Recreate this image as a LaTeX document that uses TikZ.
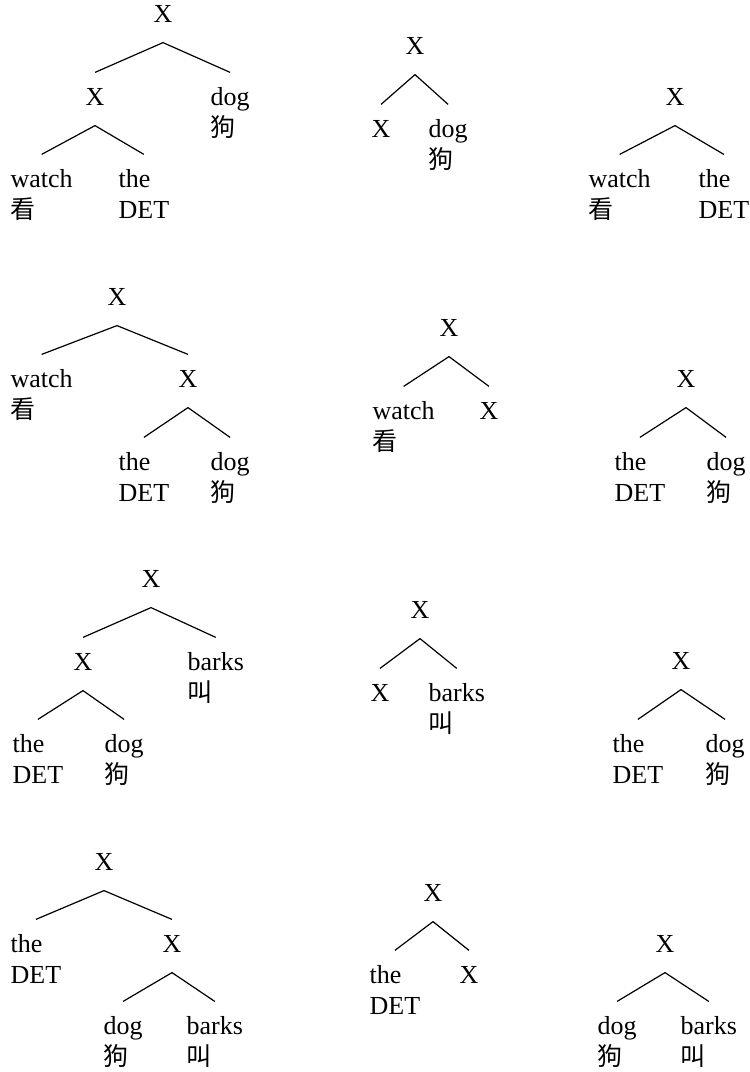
\documentclass[tikz,border=0pt]{standalone}
\usepackage{fontspec}
\setmainfont{Liberation Serif}
\newfontfamily\cjk{Noto Sans CJK SC}
\newcommand{\wordgloss}[2]{\begin{tabular}[t]{@{}l@{}}#1\\#2\end{tabular}}
\newcommand{\zh}[1]{{\cjk\fontsize{12.5}{15.5}\selectfont #1}}
\begin{document}
\begin{tikzpicture}[x=0.5pt,y=-0.5pt,line width=0.6pt,
  cat/.style={inner xsep=0pt,inner ysep=7pt,text height=9pt,text depth=3pt,anchor=base,font=\fontsize{13}{15.5}\selectfont},
  word/.style={cat,anchor=base west}]
\useasboundingbox (0,0) rectangle (750,1072);
% row 1
\node[cat] (ar) at (163,22) {X};
\node[cat] (ax) at (95,105) {X};
\node[word] (adog) at (210,105) {\wordgloss{dog}{\zh{狗}}};
\node[word] (awatch) at (10,187) {\wordgloss{watch}{\zh{看}}};
\node[word] (athe) at (118,187) {\wordgloss{the}{DET}};
\draw (ar.south) -- (ax.north);
\draw (ar.south) -- (adog.north);
\draw (ax.south) -- (awatch.north);
\draw (ax.south) -- (athe.north);
\node[cat] (br) at (415,54) {X};
\node[cat] (bx) at (381,137) {X};
\node[word] (bdog) at (428,137) {\wordgloss{dog}{\zh{狗}}};
\draw (br.south) -- (bx.north);
\draw (br.south) -- (bdog.north);
\node[cat] (cr) at (675,105) {X};
\node[word] (cwatch) at (588,187) {\wordgloss{watch}{\zh{看}}};
\node[word] (cthe) at (698,187) {\wordgloss{the}{DET}};
\draw (cr.south) -- (cwatch.north);
\draw (cr.south) -- (cthe.north);
% row 2
\node[cat] (dr) at (117,305) {X};
\node[word] (dwatch) at (10,387) {\wordgloss{watch}{\zh{看}}};
\node[cat] (dx) at (188,387) {X};
\node[word] (dthe) at (118,470) {\wordgloss{the}{DET}};
\node[word] (ddog) at (210,470) {\wordgloss{dog}{\zh{狗}}};
\draw (dr.south) -- (dwatch.north);
\draw (dr.south) -- (dx.north);
\draw (dx.south) -- (dthe.north);
\draw (dx.south) -- (ddog.north);
\node[cat] (er) at (449,336) {X};
\node[word] (ewatch) at (372,419) {\wordgloss{watch}{\zh{看}}};
\node[cat] (ex) at (489,419) {X};
\draw (er.south) -- (ewatch.north);
\draw (er.south) -- (ex.north);
\node[cat] (fr) at (686,387) {X};
\node[word] (fthe) at (614,470) {\wordgloss{the}{DET}};
\node[word] (fdog) at (706,470) {\wordgloss{dog}{\zh{狗}}};
\draw (fr.south) -- (fthe.north);
\draw (fr.south) -- (fdog.north);
% row 3
\node[cat] (gr) at (151,587) {X};
\node[cat] (gx) at (83,670) {X};
\node[word] (gbarks) at (187,670) {\wordgloss{barks}{\zh{叫}}};
\node[word] (gthe) at (12,752) {\wordgloss{the}{DET}};
\node[word] (gdog) at (104,752) {\wordgloss{dog}{\zh{狗}}};
\draw (gr.south) -- (gx.north);
\draw (gr.south) -- (gbarks.north);
\draw (gx.south) -- (gthe.north);
\draw (gx.south) -- (gdog.north);
\node[cat] (hr) at (420,618) {X};
\node[cat] (hx) at (380,701) {X};
\node[word] (hbarks) at (428,701) {\wordgloss{barks}{\zh{叫}}};
\draw (hr.south) -- (hx.north);
\draw (hr.south) -- (hbarks.north);
\node[cat] (ir) at (681,669) {X};
\node[word] (ithe) at (612,752) {\wordgloss{the}{DET}};
\node[word] (idog) at (705,752) {\wordgloss{dog}{\zh{狗}}};
\draw (ir.south) -- (ithe.north);
\draw (ir.south) -- (idog.north);
% row 4
\node[cat] (jr) at (104,870) {X};
\node[word] (jthe) at (10,952) {\wordgloss{the}{DET}};
\node[cat] (jx) at (172,952) {X};
\node[word] (jdog) at (103,1034) {\wordgloss{dog}{\zh{狗}}};
\node[word] (jbarks) at (186,1034) {\wordgloss{barks}{\zh{叫}}};
\draw (jr.south) -- (jthe.north);
\draw (jr.south) -- (jx.north);
\draw (jx.south) -- (jdog.north);
\draw (jx.south) -- (jbarks.north);
\node[cat] (kr) at (433,901) {X};
\node[word] (kthe) at (369,983) {\wordgloss{the}{DET}};
\node[cat] (kx) at (469,983) {X};
\draw (kr.south) -- (kthe.north);
\draw (kr.south) -- (kx.north);
\node[cat] (lr) at (665,952) {X};
\node[word] (ldog) at (597,1034) {\wordgloss{dog}{\zh{狗}}};
\node[word] (lbarks) at (680,1034) {\wordgloss{barks}{\zh{叫}}};
\draw (lr.south) -- (ldog.north);
\draw (lr.south) -- (lbarks.north);
\end{tikzpicture}
\end{document}
